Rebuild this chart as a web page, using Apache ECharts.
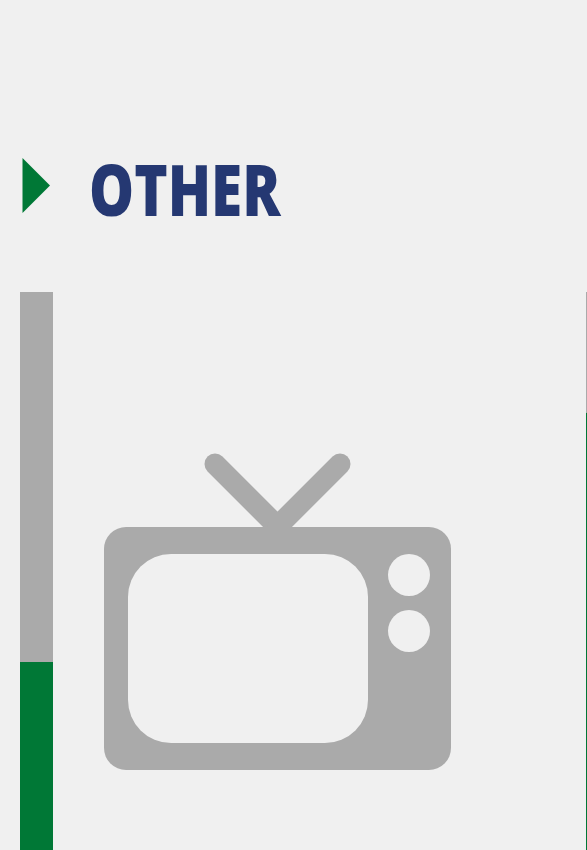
<!DOCTYPE html>
<html>
<head>
<meta charset="utf-8">
<title>Other</title>
<style>
  html, body { margin: 0; padding: 0; background: #f0f0f0; }
  #chart { width: 587px; height: 850px; }
</style>
<script src="https://cdn.jsdelivr.net/npm/echarts@6/dist/echarts.min.js"></script>
</head>
<body>
<div id="chart"></div>
<script>
const categories = ['A', 'B'];
const greyValues = [50, 16.3];
const greenValues = [50, 83.7];
const titleText = 'OTHER';

const GREY = '#aaaaaa';
const GREEN = '#007836';
const NAVY = '#253872';
const BG = '#f0f0f0';

const chart = echarts.init(document.getElementById('chart'));

const option = {
  backgroundColor: BG,
  animation: false,
  // grid runs past the window, only the top of the bars is visible
  grid: { left: -246.5, width: 1132, top: 292, height: 740, outerBoundsMode: 'none' },
  xAxis: { type: 'category', data: categories, show: false },
  yAxis: { type: 'value', min: 0, max: 100, show: false },
  series: [
    {
      type: 'bar',
      stack: 'total',
      barWidth: 33,
      data: greenValues,
      itemStyle: { color: GREEN }
    },
    {
      type: 'bar',
      stack: 'total',
      barWidth: 33,
      data: greyValues,
      itemStyle: { color: GREY }
    }
  ],
  graphic: [
    // marker in front of the title
    { type: 'polygon', shape: { points: [[22.5, 158], [22.5, 213], [50, 185.5]] }, style: { fill: GREEN } },
    // no condensed font installed, so squeeze the title horizontally
    {
      type: 'text',
      x: 89,
      y: 196,
      scaleX: 0.81,
      style: {
        text: titleText,
        fill: NAVY,
        font: '800 70px "Open Sans", sans-serif',
        verticalAlign: 'middle'
      }
    },
    // tv icon
    { type: 'line', shape: { x1: 215, y1: 464, x2: 277, y2: 526 }, style: { stroke: GREY, lineWidth: 21, lineCap: 'round' } },
    { type: 'line', shape: { x1: 340, y1: 464, x2: 278, y2: 526 }, style: { stroke: GREY, lineWidth: 21, lineCap: 'round' } },
    { type: 'rect', shape: { x: 104, y: 527, width: 347, height: 243, r: 22 }, style: { fill: GREY } },
    { type: 'rect', shape: { x: 128, y: 554, width: 240, height: 189, r: 43 }, style: { fill: BG } },
    { type: 'circle', shape: { cx: 409, cy: 575, r: 21 }, style: { fill: BG } },
    { type: 'circle', shape: { cx: 409, cy: 631, r: 21 }, style: { fill: BG } }
  ]
};

chart.setOption(option);
</script>
</body>
</html>
